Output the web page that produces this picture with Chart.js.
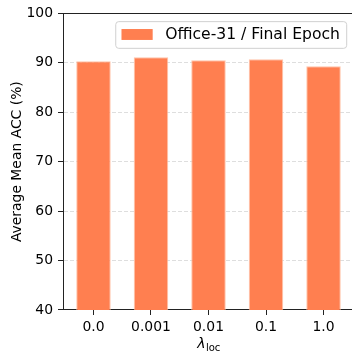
<!DOCTYPE html>
<html>
<head>
<meta charset="utf-8">
<script src="https://cdn.jsdelivr.net/npm/chart.js@4/dist/chart.umd.min.js"></script>
<style>
  html, body { margin: 0; padding: 0; background: #fff; overflow: hidden; }
  #wrap { width: 352px; height: 356px; overflow: hidden; position: relative; }
  canvas { display: block; }
</style>
</head>
<body>
<div id="wrap"><canvas id="c" width="358" height="356"></canvas></div>
<script>
// Values of the loss weight and the resulting mean accuracy
const lambdaLabels = ['0.0', '0.001', '0.01', '0.1', '1.0'];
const meanAcc = [90.3, 91.1, 90.5, 90.7, 89.3];
const yTicks = [40, 50, 60, 70, 80, 90, 100];
const seriesName = 'Office-31 / Final Epoch';
const yTitle = 'Average Mean ACC (%)';
const xTitleSymbol = 'λ';
const xTitleSub = 'loc';

const FONT = 'DejaVu Sans';
const AXIS_COLOR = '#222';
const BAR_FILL = 'rgb(255,127,80)';
const BAR_EDGE = 'rgba(255,190,160,0.9)';

// Top frame line of the axes box
const frame = {
  id: 'frame',
  afterDatasetsDraw(chart) {
    const { ctx, chartArea: a } = chart;
    ctx.save();
    ctx.strokeStyle = AXIS_COLOR;
    ctx.lineWidth = 1;
    ctx.beginPath();
    ctx.moveTo(a.left, Math.round(a.top) + 0.5);
    ctx.lineTo(a.right, Math.round(a.top) + 0.5);
    ctx.stroke();
    ctx.restore();
  }
};

// Axis title with a subscripted symbol
const xTitle = {
  id: 'xTitle',
  afterDraw(chart) {
    const { ctx, chartArea: a } = chart;
    ctx.save();
    ctx.fillStyle = '#000';
    ctx.textBaseline = 'alphabetic';
    const f1 = 'italic 14px "' + FONT + '"';
    const f2 = '10px "' + FONT + '"';
    ctx.font = f1;
    const w1 = ctx.measureText(xTitleSymbol).width;
    ctx.font = f2;
    const w2 = ctx.measureText(xTitleSub).width;
    const x0 = (a.left + a.right) / 2 - (w1 + w2) / 2;
    const base = 348;
    ctx.font = f1;
    ctx.textAlign = 'left';
    ctx.fillText(xTitleSymbol, x0, base);
    ctx.font = f2;
    ctx.fillText(xTitleSub, x0 + w1 + 0.5, base + 2.5);
    ctx.restore();
  }
};

// Framed legend inside the upper-right corner of the plot
const boxLegend = {
  id: 'boxLegend',
  afterDraw(chart) {
    const { ctx, chartArea: a } = chart;
    const ds = chart.data.datasets[0];
    const fs = 15.6;
    ctx.save();
    ctx.font = fs + 'px "' + FONT + '"';
    const tw = ctx.measureText(ds.label).width;
    const pad = 0.4 * fs, hl = 2 * fs, gap = 0.8 * fs;
    const right = a.right - 0.5 * fs;
    const top = a.top + 0.5 * fs;
    const w = pad + hl + gap + tw + pad;
    const h = 26.7;
    const left = right - w;
    ctx.beginPath();
    ctx.roundRect(left + 0.5, top + 0.5, w, h, 3);
    ctx.fillStyle = 'rgba(255,255,255,0.85)';
    ctx.fill();
    ctx.strokeStyle = '#d0d0d0';
    ctx.lineWidth = 1;
    ctx.stroke();
    const cy = top + h / 2;
    ctx.fillStyle = BAR_FILL;
    ctx.fillRect(left + pad, cy - 0.35 * fs, hl, 0.7 * fs);
    ctx.fillStyle = '#000';
    ctx.textBaseline = 'middle';
    ctx.textAlign = 'left';
    ctx.fillText(ds.label, left + pad + hl + gap, cy + 0.5);
    ctx.restore();
  }
};

new Chart(document.getElementById('c'), {
  type: 'bar',
  data: {
    datasets: [{
      label: seriesName,
      data: meanAcc.map((v, i) => ({ x: i, y: v })),
      backgroundColor: BAR_FILL,
      borderColor: BAR_EDGE,
      borderWidth: 1,
      borderSkipped: 'bottom',
      barPercentage: 0.6,
      categoryPercentage: 1.0
    }]
  },
  options: {
    responsive: false,
    animation: false,
    devicePixelRatio: 1,
    layout: { padding: { top: 12, right: 4, left: 0, bottom: 0 } },
    plugins: { legend: { display: false }, tooltip: { enabled: false } },
    scales: {
      x: {
        type: 'linear',
        offset: false,
        min: -0.53,
        max: 4.53,
        afterBuildTicks(s) { s.ticks = lambdaLabels.map((_, i) => ({ value: i })); },
        afterFit(s) { s.height = 46; },
        ticks: {
          callback: (v) => lambdaLabels[v],
          autoSkip: false,
          maxRotation: 0,
          padding: 4,
          color: '#000',
          font: { family: FONT, size: 13.9 }
        },
        grid: {
          offset: false,
          drawOnChartArea: false,
          drawTicks: true,
          tickLength: 5,
          tickColor: AXIS_COLOR,
          tickWidth: 1,
          tickBorderDash: []
        },
        border: { display: true, color: AXIS_COLOR, width: 1 }
      },
      y: {
        min: 40,
        max: 100,
        afterBuildTicks(s) { s.ticks = yTicks.map(v => ({ value: v })); },
        afterFit(s) { s.width = 63; },
        ticks: {
          padding: 5,
          color: '#000',
          font: { family: FONT, size: 13.9 }
        },
        grid: {
          color: '#dedede',
          lineWidth: 1,
          drawTicks: true,
          tickLength: 5,
          tickColor: AXIS_COLOR,
          tickWidth: 1,
          tickBorderDash: []
        },
        border: { display: true, color: AXIS_COLOR, width: 1, dash: [4, 2] },
        title: {
          display: true,
          text: yTitle,
          color: '#000',
          font: { family: FONT, size: 13.9 },
          padding: { top: 9, bottom: 0 }
        }
      }
    }
  },
  plugins: [frame, xTitle, boxLegend]
});
</script>
</body>
</html>
